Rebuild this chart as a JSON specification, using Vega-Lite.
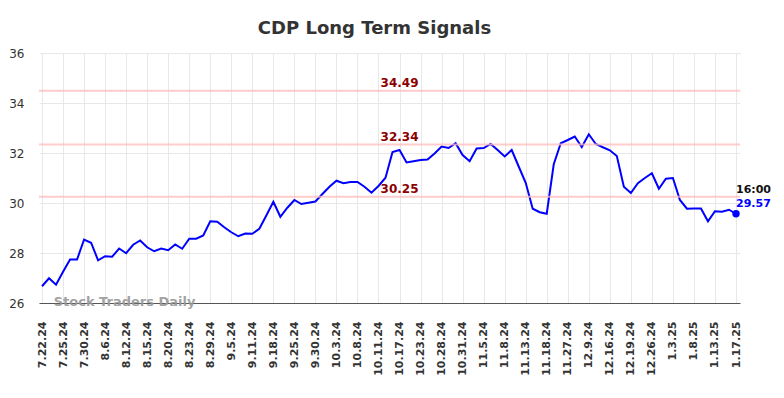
{
  "$schema": "https://vega.github.io/schema/vega-lite/v6.json",
  "width": 701,
  "height": 250,
  "autosize": "none",
  "padding": {"left": 39, "top": 53, "right": 44, "bottom": 95},
  "background": "white",
  "config": {
    "view": {"stroke": null},
    "font": "DejaVu Sans",
    "axisX": {"labelOverlap": false, "labelSeparation": 0, "labelAngle": -90, "labelAlign": "right", "labelBaseline": "middle", "labelFont": "DejaVu Sans", "labelFontSize": 11, "labelFontWeight": "bold", "labelColor": "#333333", "labelPadding": 18, "labelBound": false, "labelFlush": false, "ticks": false, "domain": true, "domainColor": "#555555", "domainWidth": 1, "grid": true, "gridColor": "#e8e8e8", "gridWidth": 1, "title": null},
    "axisY": {"labelOverlap": false, "labelFont": "DejaVu Sans", "labelFontSize": 12, "labelColor": "#333333", "labelPadding": 15, "ticks": false, "domain": false, "grid": true, "gridColor": "#e8e8e8", "gridWidth": 1, "title": null}
  },
  "title": {"text": "CDP Long Term Signals", "font": "DejaVu Sans", "fontSize": 18, "fontWeight": "bold", "color": "#333333", "anchor": "middle", "dx": -15, "offset": 9},
  "datasets": {
    "prices": [
      {"i": 0, "v": 26.67}, {"i": 1, "v": 26.99}, {"i": 2, "v": 26.73}, {"i": 3, "v": 27.25}, {"i": 4, "v": 27.74},
      {"i": 5, "v": 27.74}, {"i": 6, "v": 28.54}, {"i": 7, "v": 28.41}, {"i": 8, "v": 27.71}, {"i": 9, "v": 27.87},
      {"i": 10, "v": 27.85}, {"i": 11, "v": 28.18}, {"i": 12, "v": 27.99}, {"i": 13, "v": 28.33}, {"i": 14, "v": 28.50},
      {"i": 15, "v": 28.23}, {"i": 16, "v": 28.07}, {"i": 17, "v": 28.18}, {"i": 18, "v": 28.11}, {"i": 19, "v": 28.34},
      {"i": 20, "v": 28.17}, {"i": 21, "v": 28.57}, {"i": 22, "v": 28.57}, {"i": 23, "v": 28.70}, {"i": 24, "v": 29.27},
      {"i": 25, "v": 29.25}, {"i": 26, "v": 29.03}, {"i": 27, "v": 28.83}, {"i": 28, "v": 28.67}, {"i": 29, "v": 28.78},
      {"i": 30, "v": 28.77}, {"i": 31, "v": 28.97}, {"i": 32, "v": 29.50}, {"i": 33, "v": 30.05}, {"i": 34, "v": 29.45},
      {"i": 35, "v": 29.81}, {"i": 36, "v": 30.12}, {"i": 37, "v": 29.96}, {"i": 38, "v": 30.01}, {"i": 39, "v": 30.06},
      {"i": 40, "v": 30.36}, {"i": 41, "v": 30.65}, {"i": 42, "v": 30.89}, {"i": 43, "v": 30.79}, {"i": 44, "v": 30.84},
      {"i": 45, "v": 30.84}, {"i": 46, "v": 30.65}, {"i": 47, "v": 30.41}, {"i": 48, "v": 30.68}, {"i": 49, "v": 31.01},
      {"i": 50, "v": 32.04}, {"i": 51, "v": 32.12}, {"i": 52, "v": 31.62}, {"i": 53, "v": 31.67}, {"i": 54, "v": 31.72},
      {"i": 55, "v": 31.74}, {"i": 56, "v": 31.98}, {"i": 57, "v": 32.26}, {"i": 58, "v": 32.20}, {"i": 59, "v": 32.39},
      {"i": 60, "v": 31.92}, {"i": 61, "v": 31.67}, {"i": 62, "v": 32.18}, {"i": 63, "v": 32.20}, {"i": 64, "v": 32.36},
      {"i": 65, "v": 32.12}, {"i": 66, "v": 31.86}, {"i": 67, "v": 32.12}, {"i": 68, "v": 31.46}, {"i": 69, "v": 30.81},
      {"i": 70, "v": 29.77}, {"i": 71, "v": 29.63}, {"i": 72, "v": 29.57}, {"i": 73, "v": 31.55}, {"i": 74, "v": 32.39},
      {"i": 75, "v": 32.52}, {"i": 76, "v": 32.66}, {"i": 77, "v": 32.24}, {"i": 78, "v": 32.75}, {"i": 79, "v": 32.36},
      {"i": 80, "v": 32.23}, {"i": 81, "v": 32.11}, {"i": 82, "v": 31.88}, {"i": 83, "v": 30.65}, {"i": 84, "v": 30.40},
      {"i": 85, "v": 30.79}, {"i": 86, "v": 31.00}, {"i": 87, "v": 31.19}, {"i": 88, "v": 30.57}, {"i": 89, "v": 30.97},
      {"i": 90, "v": 31.00}, {"i": 91, "v": 30.12}, {"i": 92, "v": 29.77}, {"i": 93, "v": 29.78}, {"i": 94, "v": 29.78},
      {"i": 95, "v": 29.27}, {"i": 96, "v": 29.67}, {"i": 97, "v": 29.65}, {"i": 98, "v": 29.73}, {"i": 99, "v": 29.57}
    ],
    "levels": [
      {"level": 34.49, "label": "34.49"},
      {"level": 32.34, "label": "32.34"},
      {"level": 30.25, "label": "30.25"}
    ],
    "last": [
      {"i": 99, "v": 29.57, "time": "16:00", "price": "29.57"}
    ]
  },
  "layer": [
    {
      "data": {"name": "prices"},
      "mark": {"type": "line", "color": "#0000ff", "strokeWidth": 2},
      "encoding": {
        "x": {
          "field": "i", "type": "quantitative",
          "scale": {"domain": [-0.43, 99.57], "nice": false, "zero": false},
          "axis": {
            "values": [0, 3, 6, 9, 12, 15, 18, 21, 24, 27, 30, 33, 36, 39, 42, 45, 48, 51, 54, 57, 60, 63, 66, 69, 72, 75, 78, 81, 84, 87, 90, 93, 96, 99],
            "tickCount": 60,
            "labelExpr": "['7.22.24','7.25.24','7.30.24','8.6.24','8.12.24','8.15.24','8.20.24','8.23.24','8.29.24','9.5.24','9.11.24','9.18.24','9.25.24','9.30.24','10.3.24','10.8.24','10.11.24','10.17.24','10.23.24','10.28.24','10.31.24','11.5.24','11.8.24','11.13.24','11.18.24','11.27.24','12.9.24','12.16.24','12.19.24','12.26.24','1.3.25','1.8.25','1.13.25','1.17.25'][round(datum.value/3)]",
            "labelOverlap": false
          }
        },
        "y": {
          "field": "v", "type": "quantitative",
          "scale": {"domain": [26, 36], "nice": false, "zero": false},
          "axis": {"values": [26, 28, 30, 32, 34, 36], "tickCount": 10}
        }
      }
    },
    {
      "data": {"name": "levels"},
      "mark": {"type": "rule", "color": "#ffbbbb", "opacity": 0.75, "strokeWidth": 2},
      "encoding": {"y": {"field": "level", "type": "quantitative"}}
    },
    {
      "data": {"name": "levels"},
      "mark": {"type": "text", "color": "#8b0000", "font": "DejaVu Sans", "fontSize": 12, "fontWeight": "bold", "align": "center", "baseline": "alphabetic", "dy": -4},
      "encoding": {
        "x": {"datum": 51},
        "y": {"field": "level", "type": "quantitative"},
        "text": {"field": "label"}
      }
    },
    {
      "data": {"name": "last"},
      "mark": {"type": "point", "filled": true, "color": "#0000ff", "size": 55, "opacity": 1},
      "encoding": {
        "x": {"field": "i", "type": "quantitative"},
        "y": {"field": "v", "type": "quantitative"}
      }
    },
    {
      "data": {"name": "last"},
      "mark": {"type": "text", "color": "#111111", "font": "DejaVu Sans", "fontSize": 11, "fontWeight": "bold", "align": "left", "baseline": "middle", "dy": -24},
      "encoding": {
        "x": {"field": "i", "type": "quantitative"},
        "y": {"field": "v", "type": "quantitative"},
        "text": {"field": "time"}
      }
    },
    {
      "data": {"name": "last"},
      "mark": {"type": "text", "color": "#0000ff", "font": "DejaVu Sans", "fontSize": 11, "fontWeight": "bold", "align": "left", "baseline": "middle", "dy": -10},
      "encoding": {
        "x": {"field": "i", "type": "quantitative"},
        "y": {"field": "v", "type": "quantitative"},
        "text": {"field": "price"}
      }
    },
    {
      "data": {"values": [{"wm": "Stock Traders Daily"}]},
      "mark": {"type": "text", "color": "#999999", "opacity": 0.9, "font": "DejaVu Sans", "fontSize": 13, "fontWeight": "bold", "align": "left", "baseline": "middle"},
      "encoding": {
        "x": {"datum": 1.67},
        "y": {"datum": 26.05},
        "text": {"field": "wm"}
      }
    }
  ]
}
